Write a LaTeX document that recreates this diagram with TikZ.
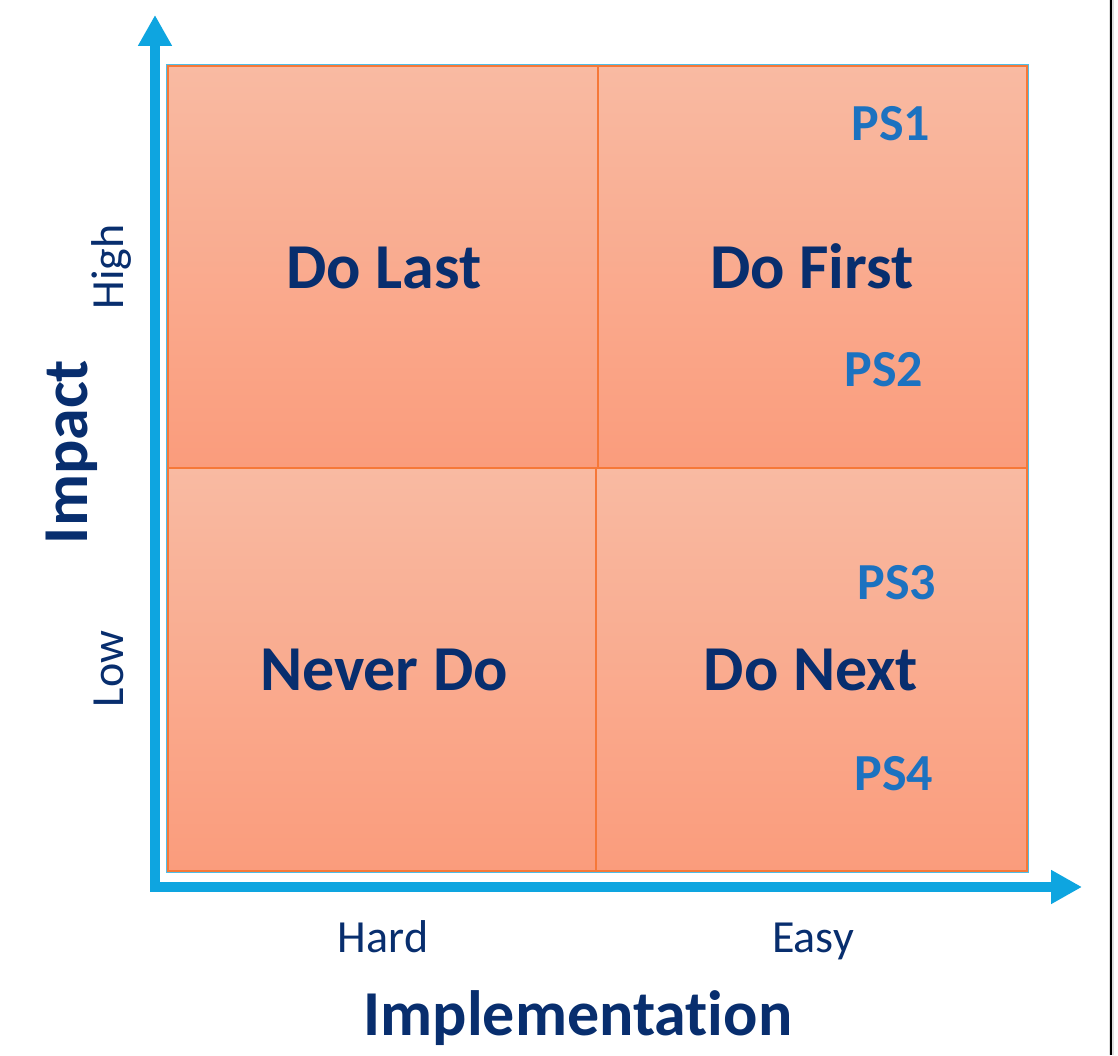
\documentclass[tikz,border=0pt]{standalone}
\usepackage{fontspec}
\setmainfont[RawFeature={-liga,-clig,-dlig}]{Carlito}
\usetikzlibrary{arrows.meta}
\definecolor{axisblue}{RGB}{14,165,224}
\definecolor{navy}{RGB}{8,46,110}
\definecolor{psblue}{RGB}{28,114,192}
\definecolor{cellorange}{RGB}{246,120,56}
\definecolor{celltop}{RGB}{249,186,162}
\definecolor{cellbot}{RGB}{250,156,124}
\definecolor{edgeblue}{RGB}{80,190,230}
\begin{document}
\begin{tikzpicture}[x=1pt,y=1pt,
  cell/.style={top color=celltop,bottom color=cellbot,draw=cellorange,line width=1.5pt},
  quad/.style={font=\fontsize{64}{64}\selectfont\bfseries,text=navy,inner sep=0pt,anchor=base},
  ps/.style={font=\fontsize{52}{52}\selectfont\bfseries,text=psblue,inner sep=0pt,anchor=base},
  level/.style={font=\fontsize{46}{46}\selectfont,text=navy,inner sep=0pt,anchor=base},
  axtitle/.style={font=\fontsize{64}{64}\selectfont\bfseries,text=navy,inner sep=0pt,anchor=base},
  axisline/.style={draw=axisblue,line width=10pt,line join=miter,
    arrows={Triangle[length=31pt,width=32pt]-Triangle[length=31pt,width=32pt]}}]
\useasboundingbox (0,0) rectangle (1118,1055);
\fill[white] (0,0) rectangle (1118,1055);
% page edge line
\draw[black!12,line width=5pt] (1111,0) -- (1111,1055);
\draw[black,line width=1.3pt] (1111,0) -- (1111,1055);
% cells
\path[cell] (168,587) rectangle (598,989);
\path[cell] (598,587) rectangle (1027,989);
\path[cell] (168,184) rectangle (596,587);
\path[cell] (596,184) rectangle (1027,587);
\draw[edgeblue,line width=1.3pt] (166.6,182.6) rectangle (1028.4,990.4);
% axes
\coordinate (ytip) at (155,1040);
\coordinate (origin) at (155,168);
\coordinate (xtip) at (1082,168);
\draw[axisline] (ytip) -- (origin) -- (xtip);
% quadrant labels
\node[quad] (dolast) at (384,766) {Do Last};
\node[quad] (dofirst) at (812,766) {Do First};
\node[quad] (neverdo) at (384,364) {Never Do};
\node[quad] (donext) at (811,364) {Do Next};
% PS labels
\node[ps] (ps1) at (891,914) {PS1};
\node[ps] (ps2) at (884,668) {PS2};
\node[ps] (ps3) at (897,455) {PS3};
\node[ps] (ps4) at (894,265) {PS4};
% axis labels
\node[axtitle,rotate=90] (impact) at (87,603) {Impact};
\node[level,rotate=90] (high) at (123,788) {High};
\node[level,rotate=90] (low) at (123,386) {Low};
\node[level] (hard) at (383,103) {Hard};
\node[level] (easy) at (813,103) {Easy};
\node[axtitle] (impl) at (578,20) {Implementation};
\end{tikzpicture}
\end{document}
